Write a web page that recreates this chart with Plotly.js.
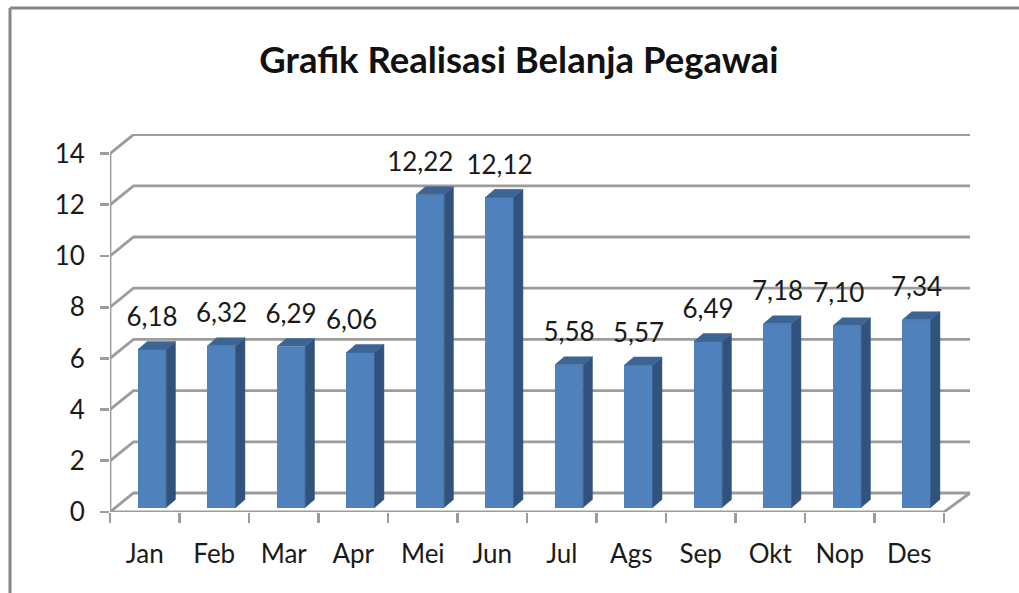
<!DOCTYPE html>
<html>
<head>
<meta charset="utf-8">
<script src="https://cdn.plot.ly/plotly-3.0.1.min.js"></script>
<style>html,body{margin:0;padding:0;background:#fff;overflow:hidden}</style>
</head>
<body>
<div id="chart" style="width:1019px;height:593px"></div>
<script>
var categories = ["Jan","Feb","Mar","Apr","Mei","Jun","Jul","Ags","Sep","Okt","Nop","Des"];
var values = [6.18,6.32,6.29,6.06,12.22,12.12,5.58,5.57,6.49,7.18,7.10,7.34];
var yTicks = [0,2,4,6,8,10,12,14];
var labelShift = [0,0,0,-0.13,-0.14,0,0,0,0,0,-0.12,0];

var FONT = "Lato, Carlito, sans-serif";
var L = 110, R = 972, T = 134, B = 512, W = 1019, H = 593;
var pxX = 69.5, pxY = 25.6;
var xMin = -0.5, xMax = xMin + (R - L) / pxX, yMax = (B - T) / pxY;
var xEnd = categories.length - 0.5;
var wallDx = 23.5 / pxX, wallDy = 19 / pxY, wallEndDx = 26 / pxX;
var barDx = 9.3 / pxX, barDy = 8 / pxY;
var barBase = 4.4 / pxY, barShift = 0.105, barW = 28.2 / pxX;
var labelGap = 30 / pxY;

var gx = [], gy = [];
yTicks.forEach(function (v) {
  gx.push(xMin, xMin + wallDx, xEnd + wallEndDx, null);
  gy.push(v, v + wallDy, v + wallDy, null);
});
gx.push(xMin, xMin, null, xMin, xEnd, xEnd + wallEndDx, null);
gy.push(0, yTicks[yTicks.length - 1], null, 0, 0, wallDy, null);

var xs = categories.map(function (c, i) { return i + barShift; });
var sideX = [], sideY = [], topX = [], topY = [];
values.forEach(function (v, i) {
  var x0 = xs[i] - barW / 2, x1 = xs[i] + barW / 2, yb = barBase, yt = barBase + v;
  sideX.push(x1, x1 + barDx, x1 + barDx, x1, x1, null);
  sideY.push(yb, yb + barDy, yt + barDy, yt, yb, null);
  topX.push(x0, x1, x1 + barDx, x0 + barDx, x0, null);
  topY.push(yt, yt, yt + barDy, yt + barDy, yt, null);
});

var traces = [
  {type:"scatter", mode:"lines", x:gx, y:gy, xaxis:"x", yaxis:"y", cliponaxis:false,
   connectgaps:false, line:{color:"#9c9c9c", width:2.8}, hoverinfo:"skip", showlegend:false},
  {type:"bar", x:xs, y:values, base:barBase, width:barW, xaxis:"x2", yaxis:"y",
   marker:{color:"#4f81bd", line:{width:0}}, showlegend:false},
  {type:"scatter", mode:"lines", x:sideX, y:sideY, xaxis:"x2", yaxis:"y", fill:"toself",
   fillcolor:"#30527c", line:{color:"#30527c", width:0.5}, hoverinfo:"skip", showlegend:false},
  {type:"scatter", mode:"lines", x:topX, y:topY, xaxis:"x2", yaxis:"y", fill:"toself",
   fillcolor:"#3c6594", line:{color:"#3c6594", width:0.5}, hoverinfo:"skip", showlegend:false},
  {type:"scatter", mode:"text", xaxis:"x2", yaxis:"y", cliponaxis:false,
   x:xs.map(function (x, i) { return x + labelShift[i]; }),
   y:values.map(function (v) { return v + barBase + labelGap; }),
   text:values.map(function (v) { return v.toFixed(2).replace(".", ","); }),
   textposition:"middle center", textfont:{family:FONT, size:26, color:"#1a1a1a"},
   hoverinfo:"skip", showlegend:false}
];

var frameColor = "#868686";
var paperX = function (px) { return (px - L) / (R - L); };
var paperY = function (px) { return (B - px) / (B - T); };

var layout = {
  width: W, height: H,
  margin: {l: L, r: W - R, t: T, b: H - B, pad: 0},
  paper_bgcolor: "#ffffff", plot_bgcolor: "rgba(0,0,0,0)",
  showlegend: false,
  bargap: 0,
  title: {text: "<b>Grafik Realisasi Belanja Pegawai</b>", x: 519 / W, xanchor: "center", xref: "container",
          y: 1 - 60 / H, yanchor: "middle", yref: "container",
          font: {family: FONT, size: 36.5, color: "#111111"}},
  xaxis: {type: "linear", range: [xMin, xMax], domain: [0, 1], tickmode: "array",
          tickvals: categories.map(function (c, i) { return i; }), ticktext: categories,
          ticks: "", showgrid: false, zeroline: false, showline: false, ticklabelstandoff: 24,
          tickfont: {family: FONT, size: 26, color: "#1a1a1a"}, fixedrange: true},
  xaxis2: {type: "linear", range: [xMin, xMax], domain: [0, 1], overlaying: "x", anchor: "y", side: "bottom",
           tickmode: "array", tickvals: categories.map(function (c, i) { return i - 0.5; }).concat([xEnd]),
           ticks: "outside", ticklen: 10, tickwidth: 2.8, tickcolor: "#9c9c9c", showticklabels: false,
           showgrid: false, zeroline: false, showline: false, fixedrange: true},
  yaxis: {range: [0, yMax], tickmode: "array", tickvals: yTicks, ticks: "outside", ticklen: 9,
          tickwidth: 2.8, tickcolor: "#9c9c9c", showgrid: false, zeroline: false, showline: false,
          ticklabelstandoff: 10, tickfont: {family: FONT, size: 26, color: "#1a1a1a"}, fixedrange: true},
  shapes: [
    {type: "line", xref: "paper", yref: "paper", x0: paperX(10), x1: paperX(W), y0: paperY(8), y1: paperY(8),
     line: {color: frameColor, width: 3}},
    {type: "line", xref: "paper", yref: "paper", x0: paperX(10), x1: paperX(10), y0: paperY(8), y1: paperY(H),
     line: {color: frameColor, width: 3}}
  ]
};

Plotly.newPlot("chart", traces, layout, {displayModeBar: false, staticPlot: true});
</script>
</body>
</html>
